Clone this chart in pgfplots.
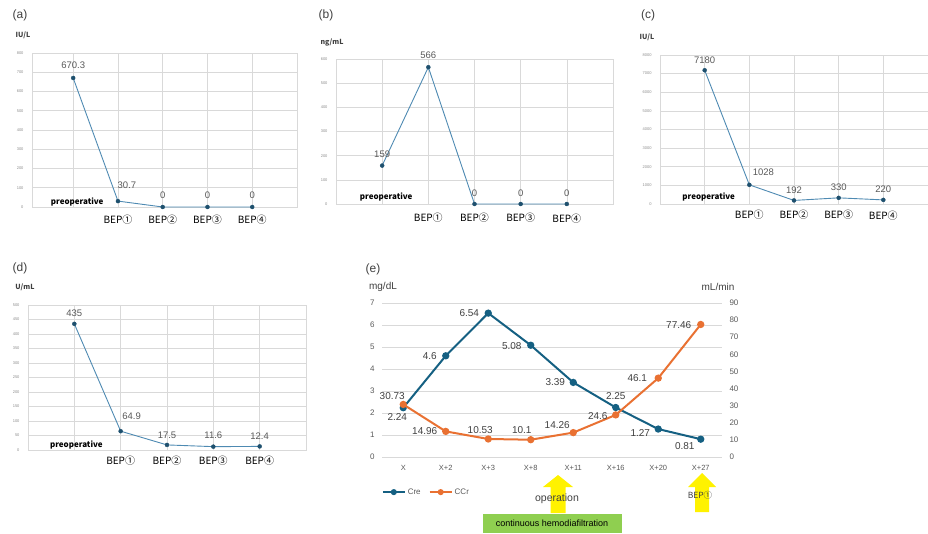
\documentclass[border=0pt]{standalone}
\usepackage{pgfplots}
\pgfplotsset{compat=1.18}
\usepackage{fontspec}
\setmainfont{Liberation Sans}
\newfontfamily\jp{Noto Sans CJK JP}
\definecolor{gridgray}{HTML}{D9D9D9}
\definecolor{tickgray}{HTML}{8C8C8C}
\definecolor{labgray}{HTML}{595959}
\definecolor{dark}{HTML}{404040}
\definecolor{linebl}{RGB}{78,138,178}
\definecolor{markbl}{RGB}{30,80,110}
\definecolor{cre}{HTML}{156082}
\definecolor{ccr}{HTML}{E97132}
\definecolor{hgreen}{HTML}{8FCF50}
\newcommand{\fs}[1]{\fontsize{#1}{#1}\selectfont}
\tikzset{
  dl/.style={font=\fs{9.5}, text=labgray, inner sep=0pt},
  el/.style={font=\fs{10}, text=dark, inner sep=0pt},
  bep/.style={font=\jp\fs{10}, text=black, inner sep=0pt},
  pre/.style={font=\jp\bfseries\fs{8}, text=black, inner sep=0pt},
  unit/.style={font=\jp\bfseries\fs{7}, text=dark, inner sep=0pt},
  letter/.style={font=\fs{12}, text=dark, inner sep=0pt},
}
\pgfplotsset{
  small/.style={
    scale only axis, anchor=south west, clip=false,
    xmin=-1, xmax=5, ymin=0,
    xtick={0,1,2,3,4}, xticklabels={},
    xmajorgrids, ymajorgrids,
    major grid style={draw=gridgray, line width=0.6pt},
    axis line style={draw=gridgray, line width=0.6pt},
    major tick length=0pt,
    yticklabel style={font=\fs{4}, text=tickgray, xshift=-5pt},
    scaled y ticks=false,
    /pgf/number format/1000 sep={},
    /pgf/number format/assume math mode=true,
  },
  ser/.style={color=linebl, line width=0.9pt, mark=*, mark size=2pt,
    mark options={draw=markbl, fill=markbl, line width=0.4pt}},
}
\begin{document}
\begin{tikzpicture}[x=1pt,y=1pt]
\path[use as bounding box] (0,0) rectangle (928,533);

% ---------- (a)
\node[letter] at (20,518) {(a)};
\node[unit] at (23,498) {IU/L};
\begin{axis}[small, at={(32pt,326pt)}, width=265pt, height=154pt, xmin=-0.92, ymax=800, ytick distance=100]
\addplot[ser] coordinates {(0,670.3)(1,30.7)(2,0)(3,0)(4,0)};
\node[dl] at (axis cs:0,670.3) [yshift=13pt] {670.3};
\node[dl] at (axis cs:1,30.7) [yshift=16pt, xshift=9pt] {30.7};
\node[dl] at (axis cs:2,0) [yshift=12pt] {0};
\node[dl] at (axis cs:3,0) [yshift=12pt] {0};
\node[dl] at (axis cs:4,0) [yshift=12pt] {0};
\node[pre] at (axis cs:0,0) [xshift=4pt, yshift=5pt] {preoperative};
\node[bep] at (axis cs:1,0) [yshift=-13pt] {BEP①};
\node[bep] at (axis cs:2,0) [yshift=-13pt] {BEP②};
\node[bep] at (axis cs:3,0) [yshift=-13pt] {BEP③};
\node[bep] at (axis cs:4,0) [yshift=-13pt] {BEP④};
\end{axis}

% ---------- (b)
\node[letter] at (326,518) {(b)};
\node[unit] at (332,491) {ng/mL};
\begin{axis}[small, at={(336pt,329pt)}, width=277pt, height=145pt, ymax=600, ytick distance=100]
\addplot[ser] coordinates {(0,159)(1,566)(2,0)(3,0)(4,0)};
\node[dl] at (axis cs:0,159) [yshift=11pt] {159};
\node[dl] at (axis cs:1,566) [yshift=12pt] {566};
\node[dl] at (axis cs:2,0) [yshift=11pt] {0};
\node[dl] at (axis cs:3,0) [yshift=11pt] {0};
\node[dl] at (axis cs:4,0) [yshift=11pt] {0};
\node[pre] at (axis cs:0,0) [xshift=4pt, yshift=7pt] {preoperative};
\node[bep] at (axis cs:1,0) [yshift=-14pt] {BEP①};
\node[bep] at (axis cs:2,0) [yshift=-14pt] {BEP②};
\node[bep] at (axis cs:3,0) [yshift=-14pt] {BEP③};
\node[bep] at (axis cs:4,0) [yshift=-15pt] {BEP④};
\end{axis}

% ---------- (c)
\node[letter] at (648,518) {(c)};
\node[unit] at (647,496) {IU/L};
\begin{axis}[small, at={(660pt,329pt)}, width=268pt, height=149pt, ymax=8000, ytick distance=1000]
\addplot[ser] coordinates {(0,7180)(1,1028)(2,192)(3,330)(4,220)};
\node[dl] at (axis cs:0,7180) [yshift=10pt] {7180};
\node[dl] at (axis cs:1,1028) [yshift=13pt, xshift=14pt] {1028};
\node[dl] at (axis cs:2,192) [yshift=10pt] {192};
\node[dl] at (axis cs:3,330) [yshift=11pt] {330};
\node[dl] at (axis cs:4,220) [yshift=11pt] {220};
\node[pre] at (axis cs:0,0) [xshift=4pt, yshift=7pt] {preoperative};
\node[bep] at (axis cs:1,0) [yshift=-11pt] {BEP①};
\node[bep] at (axis cs:2,0) [yshift=-11pt] {BEP②};
\node[bep] at (axis cs:3,0) [yshift=-11pt] {BEP③};
\node[bep] at (axis cs:4,0) [yshift=-12pt] {BEP④};
\end{axis}

% ---------- (d)
\node[letter] at (20,265) {(d)};
\node[unit] at (25,246) {U/mL};
\begin{axis}[small, at={(28pt,83pt)}, width=278pt, height=145pt, ymax=500, ytick distance=50]
\addplot[ser] coordinates {(0,435)(1,64.9)(2,17.5)(3,11.6)(4,12.4)};
\node[dl] at (axis cs:0,435) [yshift=11pt] {435};
\node[dl] at (axis cs:1,64.9) [yshift=15pt, xshift=11pt] {64.9};
\node[dl] at (axis cs:2,17.5) [yshift=10pt] {17.5};
\node[dl] at (axis cs:3,11.6) [yshift=11pt] {11.6};
\node[dl] at (axis cs:4,12.4) [yshift=10pt] {12.4};
\node[pre] at (axis cs:0,0) [xshift=2pt, yshift=5pt] {preoperative};
\node[bep] at (axis cs:1,0) [yshift=-11pt] {BEP①};
\node[bep] at (axis cs:2,0) [yshift=-11pt] {BEP②};
\node[bep] at (axis cs:3,0) [yshift=-11pt] {BEP③};
\node[bep] at (axis cs:4,0) [yshift=-11pt] {BEP④};
\end{axis}

% ---------- (e) arrows first
\fill[yellow] (558,58) -- (573,46) -- (565.5,46) -- (565.5,20) -- (550.5,20) -- (550.5,46) -- (543,46) -- cycle;
\fill[yellow] (702,60) -- (716,46) -- (709,46) -- (709,21) -- (695,21) -- (695,46) -- (688,46) -- cycle;

\node[letter] at (373,264) {(e)};
\node[el] at (383,246) {mg/dL};
\node[el] at (718,246) {mL/min};
\begin{axis}[scale only axis, anchor=south west, at={(382pt,76pt)}, width=340pt, height=154pt,
  clip=false,
  xmin=-0.5, xmax=7.5, ymin=0, ymax=7, ytick={0,...,7},
  xtick={0,...,7}, xticklabels={X,X+2,X+3,X+8,X+11,X+16,X+20,X+27},
  ymajorgrids, major grid style={draw=gridgray, line width=0.6pt},
  axis line style={draw=none}, major tick length=0pt,
  xticklabel style={font=\fs{7.5}, text=labgray, yshift=-5pt},
  yticklabel style={font=\fs{8}, text=labgray, xshift=-4pt},
  /pgf/number format/assume math mode=true,
  legend style={at={(axis description cs:-0.01,-0.228)}, anchor=west, draw=none, fill=none,
    font=\fs{8}, text=labgray, legend columns=2,
    /tikz/every even column/.append style={column sep=6pt}},
  legend image code/.code={\draw[mark repeat=2, mark phase=2, mark size=2pt] plot coordinates {(0pt,0pt) (11pt,0pt) (22pt,0pt)};},
]
\addplot[color=cre, line width=2pt, mark=*, mark size=2.6pt] coordinates {(0,2.24)(1,4.6)(2,6.54)(3,5.08)(4,3.39)(5,2.25)(6,1.27)(7,0.81)};
\addlegendentry{Cre}
\addlegendimage{color=ccr, line width=2pt, mark=*, mark size=2pt}
\addlegendentry{CCr}
\node[el] at (axis cs:0,2.24) [xshift=-6pt, yshift=-9pt] {2.24};
\node[el] at (axis cs:1,4.6) [xshift=-16pt] {4.6};
\node[el] at (axis cs:2,6.54) [xshift=-19pt] {6.54};
\node[el] at (axis cs:3,5.08) [xshift=-19pt, yshift=-1pt] {5.08};
\node[el] at (axis cs:4,3.39) [xshift=-18pt] {3.39};
\node[el] at (axis cs:5,2.25) [yshift=11.5pt] {2.25};
\node[el] at (axis cs:6,1.27) [xshift=-18pt, yshift=-4pt] {1.27};
\node[el] at (axis cs:7,0.81) [xshift=-16pt, yshift=-7pt] {0.81};
\end{axis}
\begin{axis}[scale only axis, anchor=south west, at={(382pt,76pt)}, width=340pt, height=154pt,
  clip=false,
  xmin=-0.5, xmax=7.5, ymin=0, ymax=90, ytick distance=10,
  axis x line=none, axis y line*=right,
  axis line style={draw=none}, major tick length=0pt,
  yticklabel style={font=\fs{8}, text=labgray, xshift=4pt},
  /pgf/number format/assume math mode=true,
]
\addplot[color=ccr, line width=2pt, mark=*, mark size=2.6pt] coordinates {(0,30.73)(1,14.96)(2,10.53)(3,10.1)(4,14.26)(5,24.6)(6,46.1)(7,77.46)};
\node[el] at (axis cs:0,30.73) [xshift=-11pt, yshift=8pt] {30.73};
\node[el] at (axis cs:1,14.96) [xshift=-21pt] {14.96};
\node[el] at (axis cs:2,10.53) [xshift=-8pt, yshift=9pt] {10.53};
\node[el] at (axis cs:3,10.1) [xshift=-9pt, yshift=10pt] {10.1};
\node[el] at (axis cs:4,14.26) [xshift=-16pt, yshift=7.5pt] {14.26};
\node[el] at (axis cs:5,24.6) [xshift=-18pt, yshift=-1pt] {24.6};
\node[el] at (axis cs:6,46.1) [xshift=-21pt] {46.1};
\node[el] at (axis cs:7,77.46) [xshift=-22pt, yshift=-1pt] {77.46};
\end{axis}

\node[font=\fs{10.5}, text=dark, inner sep=0pt] at (557,34) {operation};
\node[font=\jp\fs{8.5}, text=dark, inner sep=0pt] at (700,38) {BEP①};
\fill[hgreen] (483,0) rectangle (622,19);
\node[font=\fs{9}, text=black, inner sep=0pt] at (552,9.5) {continuous hemodiafiltration};
\end{tikzpicture}
\end{document}
